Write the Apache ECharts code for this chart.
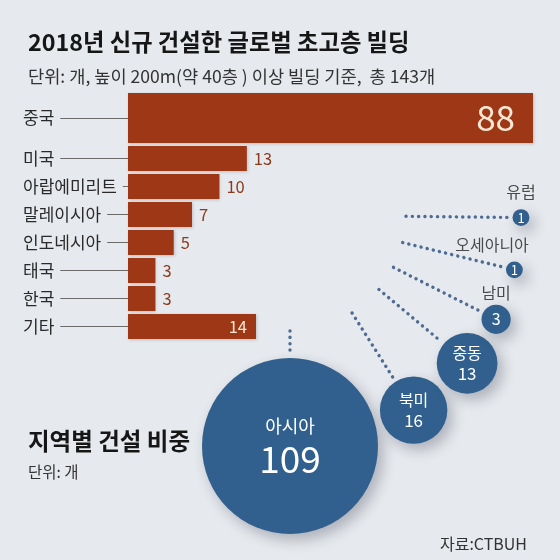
<!DOCTYPE html>
<html><head><meta charset="utf-8">
<script src="https://cdn.jsdelivr.net/npm/echarts@6/dist/echarts.min.js"></script>
<style>html,body{margin:0;padding:0;background:#e6e9ed}#c{width:560px;height:560px}</style>
</head><body><div id="c"></div>
<script>
// ---- data ----
const titleText = '2018년 신규 건설한 글로벌 초고층 빌딩';
const subtitleText = '단위: 개, 높이 200m(약 40층 ) 이상 빌딩 기준,  총 143개';
const topCountry = ['중국'];
const topCountryValue = [88];
const countries = ['미국', '아랍에미리트', '말레이시아', '인도네시아', '태국', '한국', '기타'];
const countryValues = [13, 10, 7, 5, 3, 3, 14];
const regionTitle = '지역별 건설 비중';
const regionUnit = '단위: 개';
const regions = ['아시아', '북미', '중동', '남미', '오세아니아', '유럽'];
const regionValues = [109, 16, 13, 3, 1, 1];
const sourceText = '자료:CTBUH';

// ---- style / layout ----
const FONT = "'Noto Sans CJK KR', 'Noto Sans', sans-serif";
const BG = '#e6e9ed';
const BAR = '#9d3716';
const BAR_TXT = '#8c3a1c';
const CREAM = '#fbe8d4';
const BLUE = '#31608f';
const DOT = '#4d6b93';
const xMax = 44.3; // bars beyond this are cut (China)

const R = 231, maxD = 176;
const vmax = Math.max(...regionValues);
const radii = regionValues.map(v => maxD / 2 * Math.sqrt(v / vmax));
const angles = [90];
for (let i = 1; i < regions.length; i++) {
  const chord = radii[i - 1] + radii[i] + 7;
  const step = Math.max(13.1, 2 * Math.asin(chord / (2 * R)) * 180 / Math.PI);
  angles.push(angles[i - 1] - step);
}

const bubbleData = regions.map((n, i) => {
  const r = radii[i];
  let label;
  if (r > 60) {
    label = {show: true, position: 'inside', formatter: '{n|' + n + '}\n{v|' + regionValues[i] + '}',
      rich: {n: {fontSize: 18, color: '#fff', lineHeight: 26, fontFamily: FONT},
             v: {fontSize: 37, color: '#fff', lineHeight: 40, fontFamily: FONT}}};
  } else if (r > 25) {
    label = {show: true, position: 'inside', formatter: '{n|' + n + '}\n{v|' + regionValues[i] + '}',
      rich: {n: {fontSize: 16, color: '#fff', lineHeight: 20, fontFamily: FONT},
             v: {fontSize: 17, color: '#fff', lineHeight: 20, fontFamily: FONT}}};
  } else {
    label = {show: true, position: 'inside', formatter: String(regionValues[i]),
      color: '#fff', fontSize: Math.round(r * 0.55 + 8), fontFamily: FONT};
  }
  return {name: n, value: [R, angles[i]], symbolSize: r * 2, label};
});

// names above small bubbles
const smallNames = regions.map((n, i) => {
  const r = radii[i];
  if (r > 25) return null;
  const long = n.length > 3;
  return {
    name: n, value: [R, angles[i]], symbolSize: r * 2,
    label: {show: true, position: 'top', distance: r < 10 ? 9 : 4, formatter: n, color: '#222', fontSize: 16,
      fontFamily: FONT, align: long ? 'right' : 'center', offset: long ? [r + 6, 0] : [0, 0]}
  };
}).filter(Boolean);

const dotSeries = regions.map((n, i) => ({
  type: 'line', coordinateSystem: 'polar', polarIndex: 0, clip: false, silent: true,
  showSymbol: false, symbol: 'none', animation: false, z: 1,
  data: [[116, angles[i]], [R - radii[i] - 3, angles[i]]],
  lineStyle: {color: DOT, width: 3.4, type: [0.1, 6.2], cap: 'round'}
}));

const otherData = countryValues.map((v, i) => {
  const inside = countries[i] === '기타';
  return {value: v, label: inside
    ? {position: 'insideRight', color: CREAM, distance: 9}
    : {position: 'right', color: BAR_TXT, distance: 7}};
});

const yAxisCommon = {
  type: 'category', inverse: true, offset: 6,
  axisLine: {show: false},
  axisTick: {show: true, alignWithLabel: true, length: 97, lineStyle: {color: '#6a6a6a', width: 1}},
  axisLabel: {align: 'left', margin: 99, color: '#2a2a2a', fontSize: 17, fontFamily: FONT,
    backgroundColor: BG, padding: [2, 6, 2, 0]}
};

const option = {
  backgroundColor: BG,
  animation: false,
  textStyle: {fontFamily: FONT},
  title: [
    {text: titleText, left: 23, top: 26, textStyle: {fontSize: 23.3, fontWeight: 'bold', color: '#161616', fontFamily: FONT}},
    {text: subtitleText, left: 23, top: 63, textStyle: {fontSize: 17.6, fontWeight: 'normal', color: '#333', fontFamily: FONT}},
    {text: regionTitle, left: 23, top: 424, textStyle: {fontSize: 23.5, fontWeight: 'bold', color: '#161616', fontFamily: FONT}},
    {text: regionUnit, left: 23, top: 459, textStyle: {fontSize: 15.5, fontWeight: 'normal', color: '#333', fontFamily: FONT}},
    {text: sourceText, right: 28, top: 531, textStyle: {fontSize: 16, fontWeight: 'normal', color: '#333', fontFamily: FONT}}
  ],
  grid: [
    {left: 128, top: 93, width: 405, height: 50},
    {left: 128, top: 144.5, width: 405, height: 196}
  ],
  xAxis: [
    {gridIndex: 0, type: 'value', min: 0, max: xMax, show: false},
    {gridIndex: 1, type: 'value', min: 0, max: xMax, show: false}
  ],
  yAxis: [
    Object.assign({gridIndex: 0, data: topCountry}, yAxisCommon),
    Object.assign({gridIndex: 1, data: countries}, yAxisCommon)
  ],
  polar: {center: [290, 215], radius: R},
  angleAxis: {type: 'value', min: 0, max: 360, startAngle: 0, clockwise: true, show: false,
    axisLine: {show: false}, axisTick: {show: false}, axisLabel: {show: false}, splitLine: {show: false}},
  radiusAxis: {type: 'value', min: 0, max: R, show: false,
    axisLine: {show: false}, axisTick: {show: false}, axisLabel: {show: false}, splitLine: {show: false}},
  series: [
    {type: 'bar', xAxisIndex: 0, yAxisIndex: 0, data: topCountryValue, barWidth: 50, clip: true,
      itemStyle: {color: BAR, shadowColor: 'rgba(0,0,0,0.18)', shadowBlur: 3, shadowOffsetX: 1, shadowOffsetY: 1},
      label: {show: true, position: 'insideRight', distance: 18, color: CREAM, fontSize: 35, fontFamily: FONT}},
    {type: 'bar', xAxisIndex: 1, yAxisIndex: 1, data: otherData, barWidth: 25, clip: true,
      itemStyle: {color: BAR, shadowColor: 'rgba(0,0,0,0.18)', shadowBlur: 3, shadowOffsetX: 1, shadowOffsetY: 1},
      label: {show: true, fontSize: 16.5, fontFamily: FONT}},
    ...dotSeries,
    {type: 'scatter', coordinateSystem: 'polar', polarIndex: 0, clip: false, z: 3,
      data: bubbleData,
      itemStyle: {color: BLUE, opacity: 1, shadowColor: 'rgba(20,30,50,0.28)', shadowBlur: 14, shadowOffsetX: 5, shadowOffsetY: 6}},
    {type: 'scatter', coordinateSystem: 'polar', polarIndex: 0, clip: false, z: 4, silent: true,
      data: smallNames, itemStyle: {color: 'rgba(0,0,0,0)'}}
  ]
};
const chart = echarts.init(document.getElementById('c'));
chart.setOption(option);
</script></body></html>
